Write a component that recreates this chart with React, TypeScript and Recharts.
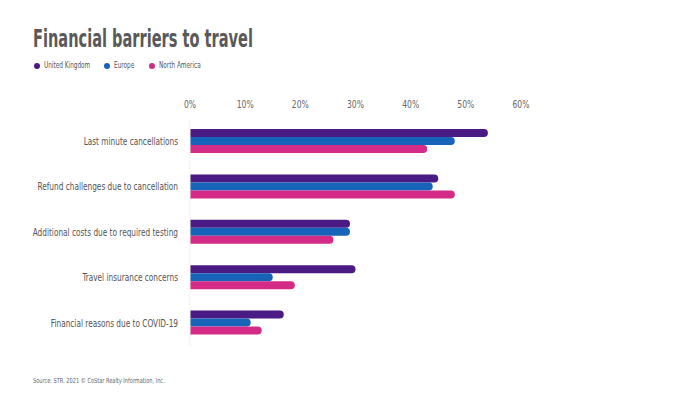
import React from 'react';
import { BarChart, Bar, XAxis, YAxis } from 'recharts';

const categories = [
  'Last minute cancellations',
  'Refund challenges due to cancellation',
  'Additional costs due to required testing',
  'Travel insurance concerns',
  'Financial reasons due to COVID-19',
];
const unitedKingdom = [54, 45, 29, 30, 17];
const europe = [48, 44, 29, 15, 11];
const northAmerica = [43, 48, 26, 19, 13];
const xTicks = [0, 10, 20, 30, 40, 50, 60];

const seriesNames = ['United Kingdom', 'Europe', 'North America'];
const seriesKeys = ['uk', 'eu', 'na'];
const seriesColors = ['#4a1a85', '#1763b9', '#d42c86'];

const data = categories.map((c, i) => ({
  name: c,
  uk: unitedKingdom[i],
  eu: europe[i],
  na: northAmerica[i],
}));

const FONT = '"DejaVu Sans Condensed", "DejaVu Sans", sans-serif';

const legendDotX = [37, 107, 152];

const YTick = (props: any) => {
  const { x, y, payload } = props;
  return (
    <text
      transform={`translate(${x},${y}) scale(0.82,1)`}
      textAnchor="end"
      dominantBaseline="central"
      fontSize={10}
      fill="#555"
      fontFamily={FONT}
    >
      {payload.value}
    </text>
  );
};

const XTick = (props: any) => {
  const { x, y, payload } = props;
  return (
    <text
      transform={`translate(${x},${y}) scale(0.85,1)`}
      textAnchor="middle"
      dominantBaseline="central"
      fontSize={10}
      fill="#666"
      fontFamily={FONT}
    >
      {`${payload.value}%`}
    </text>
  );
};

export default function App() {
  return (
    <div style={{ position: 'absolute', left: 0, top: 0, width: 700, height: 393, background: '#fff', fontFamily: FONT }}>
      <div
        style={{
          position: 'absolute',
          left: 33,
          top: 25,
          fontSize: 24,
          fontWeight: 700,
          color: '#595959',
          fontFamily: FONT,
          whiteSpace: 'nowrap',
          transform: 'scaleX(0.675)',
          transformOrigin: '0 0',
        }}
      >
        Financial barriers to travel
      </div>
      {seriesNames.map((n, i) => (
        <div key={n} style={{ position: 'absolute', left: legendDotX[i] - 3, top: 62, display: 'flex', alignItems: 'center' }}>
          <span style={{ width: 6, height: 6, borderRadius: 3, background: seriesColors[i], display: 'inline-block' }} />
          <span
            style={{
              marginLeft: 4,
              fontSize: 8,
              color: '#555',
              whiteSpace: 'nowrap',
              display: 'inline-block',
              transform: 'scaleX(0.8)',
              transformOrigin: '0 50%',
              lineHeight: '8px',
            }}
          >
            {n}
          </span>
        </div>
      ))}
      <div
        style={{
          position: 'absolute',
          left: 33,
          top: 377,
          fontSize: 7,
          color: '#666',
          fontFamily: FONT,
          whiteSpace: 'nowrap',
          transform: 'scaleX(0.8)',
          transformOrigin: '0 0',
        }}
      >
        Source: STR. 2021 © CoStar Realty Information, Inc.
      </div>
      <BarChart
        width={700}
        height={393}
        data={data}
        layout="vertical"
        margin={{ top: 90, right: 179, bottom: 47, left: 0 }}
        barGap={0}
        barCategoryGap={10}
      >
        <XAxis
          type="number"
          orientation="top"
          domain={[0, 60]}
          ticks={xTicks}
          axisLine={false}
          tickLine={false}
          height={29}
          tickMargin={9}
          tick={XTick}
          interval={0}
        />
        <YAxis
          type="category"
          dataKey="name"
          width={190}
          axisLine={{ stroke: '#f0f0f0' }}
          tickLine={false}
          tickMargin={6}
          tick={YTick}
          interval={0}
        />
        {seriesKeys.map((k, i) => (
          <Bar key={k} dataKey={k} name={seriesNames[i]} fill={seriesColors[i]} radius={[0, 5, 5, 0]} isAnimationActive={false} />
        ))}
      </BarChart>
    </div>
  );
}
